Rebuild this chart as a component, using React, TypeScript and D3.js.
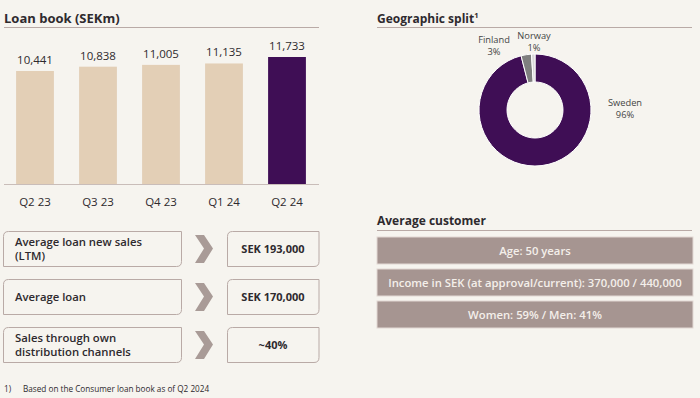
import React from "react";
import * as d3 from "d3";

const quarters = ["Q2 23", "Q3 23", "Q4 23", "Q1 24", "Q2 24"];
const loanBook = [10441, 10838, 11005, 11135, 11733];

const countries = ["Sweden", "Finland", "Norway"];
const shares = [96, 3, 1];

const kpiLabels = [["Average loan new sales", "(LTM)"], ["Average loan"], ["Sales through own", "distribution channels"]];
const kpiValues = ["SEK 193,000", "SEK 170,000", "~40%"];

const customerFacts = ["Age: 50 years", "Income in SEK (at approval/current): 370,000 / 440,000", "Women: 59% / Men: 41%"];

const FONT = "'Open Sans', 'Noto Sans', sans-serif";
const BG = "#f6f4ef";
const PURPLE = "#3f0e55";
const BEIGE = "#e3cfb6";
const LINE = "#b9aaa6";
const TEXT = "#2e2a2e";

function boxPath(x: number, y: number, w: number, h: number, r: number) {
  return `M${x + r},${y} H${x + w} V${y + h - r} Q${x + w},${y + h} ${x + w - r},${y + h} H${x} V${y + r} Q${x},${y} ${x + r},${y} Z`;
}

export default function App() {
  const W = 700, H = 398;
  const baseY = 184;
  const x = d3.scaleBand<string>().domain(quarters).range([3.5, 318.5]).paddingInner(0.4).paddingOuter(0.2);
  const y = d3.scaleLinear().domain([0, 11733]).range([baseY, 57]);

  const cx = 535, cy = 110;
  const pie = d3.pie<number>().sort(null).value((d) => d);
  const arcs = pie(shares);
  const arc = d3.arc<d3.PieArcDatum<number>>().innerRadius(28).outerRadius(56);
  const pieColors = [PURPLE, "#7f7f7f", "#d8d8d8"];
  const pieLabelPos = [[90, -2], [-41, -65], [-1, -69]];

  const kpiY = [231, 279, 327];
  const custY = [237, 269, 301];

  return (
    <svg width={W} height={H} style={{ position: "absolute", left: 0, top: 0, background: BG, fontFamily: FONT }}>
      <rect x={0} y={0} width={W} height={H} fill={BG} />
      {/* Loan book */}
      <text x={4} y={23} fontSize={13} fontWeight={700} fill={TEXT}>Loan book (SEKm)</text>
      <line x1={4} x2={319} y1={27.5} y2={27.5} stroke={LINE} strokeWidth={1} />
      {quarters.map((q, i) => (
        <g key={q}>
          <rect x={x(q)} y={y(loanBook[i])} width={x.bandwidth()} height={baseY - y(loanBook[i])}
            fill={i === quarters.length - 1 ? PURPLE : BEIGE} />
          <text x={(x(q) as number) + x.bandwidth() / 2} y={y(loanBook[i]) - 7} textAnchor="middle" fontSize={11.5} fill={TEXT}>
            {d3.format(",")(loanBook[i])}
          </text>
          <text x={(x(q) as number) + x.bandwidth() / 2} y={206} textAnchor="middle" fontSize={11.5} fill={TEXT}>{q}</text>
        </g>
      ))}
      <line x1={4} x2={319} y1={baseY + 0.5} y2={baseY + 0.5} stroke="#c9bdb9" strokeWidth={1} />

      {/* KPI boxes */}
      {kpiLabels.map((lines, i) => {
        const top = kpiY[i];
        const h = 35;
        const mid = top + h / 2;
        return (
          <g key={i}>
            <path d={boxPath(3.5, top + 0.5, 178, h, 5)} fill={BG} stroke={LINE} strokeWidth={1} />
            {lines.map((l, j) => (
              <text key={j} x={15} y={mid + 4.5 + (j - (lines.length - 1) / 2) * 14} fontSize={11.3} fontWeight={600} fill={TEXT}>{l}</text>
            ))}
            <path d={`M${195},${top + 4} L${204},${top + 4} L${213},${mid} L${204},${top + h - 3} L${195},${top + h - 3} L${204},${mid} Z`} fill="#a99b97" />
            <path d={boxPath(227.5, top + 0.5, 91.5, h, 5)} fill={BG} stroke={LINE} strokeWidth={1} />
            <text x={273} y={mid + 4.5} textAnchor="middle" fontSize={11} fontWeight={700} fill={TEXT}>{kpiValues[i]}</text>
          </g>
        );
      })}

      <text x={4} y={392} fontSize={8.2} fill={TEXT}>1)</text>
      <text x={23} y={392} fontSize={8.2} fill={TEXT}>Based on the Consumer loan book as of Q2 2024</text>

      {/* Geographic split */}
      <text x={377} y={23} fontSize={12} fontWeight={700} fill={TEXT}>
        Geographic split<tspan fontSize={7.5} dy={-5}>1</tspan>
      </text>
      <line x1={377} x2={692} y1={27.5} y2={27.5} stroke={LINE} strokeWidth={1} />
      <g transform={`translate(${cx},${cy})`}>
        {arcs.map((a, i) => (
          <path key={countries[i]} d={arc(a) as string} fill={pieColors[i]} stroke="#ffffff" strokeWidth={1} />
        ))}
        {countries.map((c, i) => (
          <text key={c} x={pieLabelPos[i][0]} y={pieLabelPos[i][1]} textAnchor="middle" fontSize={9.3} fill="#444">
            <tspan x={pieLabelPos[i][0]} dy={-2}>{c}</tspan>
            <tspan x={pieLabelPos[i][0]} dy={12}>{shares[i]}%</tspan>
          </text>
        ))}
      </g>

      {/* Average customer */}
      <text x={377} y={225} fontSize={12} fontWeight={700} fill={TEXT}>Average customer</text>
      <line x1={377} x2={692} y1={230.5} y2={230.5} stroke={LINE} strokeWidth={1} />
      {customerFacts.map((f, i) => (
        <g key={i}>
          <rect x={377} y={custY[i]} width={316} height={27} fill="#a69591" stroke="#e2d8d4" strokeWidth={1} />
          <text x={535} y={custY[i] + 17.5} textAnchor="middle" fontSize={11.3} fontWeight={600} fill="#f4efea">{f}</text>
        </g>
      ))}
    </svg>
  );
}
